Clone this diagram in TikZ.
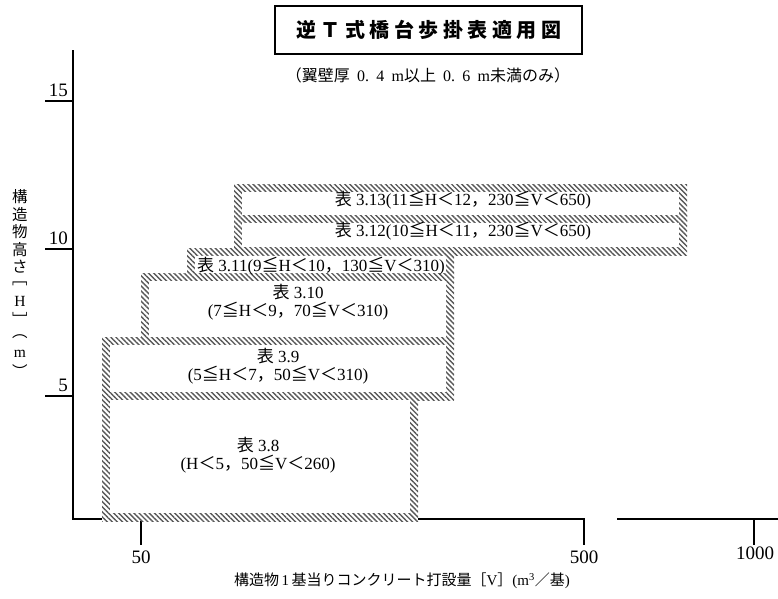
\documentclass[tikz,border=0pt]{standalone}
\usepackage{fontspec}
\setmainfont{Liberation Serif}
\newfontfamily\jp{Noto Sans CJK JP}
\usetikzlibrary{patterns.meta}
\newcommand\J[1]{{\jp #1}}
\newcommand\gp{\hspace{0.45em}}
\newcommand\tsp{\hspace{4.5pt}}
\begin{document}
\begin{tikzpicture}[x=1pt,y=-1pt,
  hatch/.style={pattern={Lines[angle=-45,distance=3.6pt,line width=1.4pt]},pattern color=black!65},
  ax/.style={line width=1.8pt},
  lbl/.style={font=\fontsize{17}{18}\selectfont, align=center, inner sep=0pt},
  ticklbl/.style={font=\fontsize{19}{20}\selectfont, inner sep=0pt},
  vch/.style={font=\fontsize{15.5}{16}\selectfont, inner sep=0pt}]
\useasboundingbox (0,0) rectangle (778,598);
% axes
\draw[ax] (73,50) -- (73,519) -- (584,519) -- (584,545);
\draw[ax] (141,519) -- (141,545);
\draw[ax] (617,519) -- (778,519);
\draw[ax] (754,519) -- (754,545);
\draw[ax] (45,101) -- (73,101);
\draw[ax] (45,249) -- (73,249);
\draw[ax] (45,396) -- (73,396);
% y tick labels
\node[ticklbl, anchor=south east] (y15) at (68,97) {15};
\node[ticklbl, anchor=south east] (y10) at (68,245) {10};
\node[ticklbl, anchor=south east] (y5) at (68,392) {5};
% x tick labels
\node[ticklbl] (x50) at (141,557) {50};
\node[ticklbl] (x500) at (584,557) {500};
\node[ticklbl] (x1000) at (755,553) {1000};
% hatched boxes
\foreach \a/\b/\c/\d in {234/184/687/223, 234/215/687/255, 187/248/454/281, 141/273/454/345, 102/337/454/400, 102/392/418/521}{
  \fill[white] (\a,\b) rectangle (\c,\d);
  \fill[hatch] (\a,\b) rectangle (\c,\d);
}
\foreach \a/\b/\c/\d in {242/192/679/215, 242/223/679/247, 195/256/446/273, 149/281/446/337, 110/345/446/392, 110/400/410/513}{
  \fill[white] (\a,\b) rectangle (\c,\d);
}
% box labels
\node[lbl] (t13) at (463,200) {\J{表} 3.13(11\J{≦}H\J{＜}12\J{，}230\J{≦}V\J{＜}650)};
\node[lbl] (t12) at (463,231) {\J{表} 3.12(10\J{≦}H\J{＜}11\J{，}230\J{≦}V\J{＜}650)};
\node[lbl] (t11) at (321,266) {\J{表} 3.11(9\J{≦}H\J{＜}10\J{，}130\J{≦}V\J{＜}310)};
\node[lbl] (t10) at (298,302) {\J{表} 3.10\\(7\J{≦}H\J{＜}9\J{，}70\J{≦}V\J{＜}310)};
\node[lbl] (t9) at (278,366) {\J{表} 3.9\\(5\J{≦}H\J{＜}7\J{，}50\J{≦}V\J{＜}310)};
\node[lbl] (t8) at (258,455) {\J{表} 3.8\\(H\J{＜}5\J{，}50\J{≦}V\J{＜}260)};
% title
\node[draw, line width=1.6pt, minimum width=307pt, minimum height=48pt, inner sep=0pt,
  font=\jp\bfseries\fontsize{20}{24}\selectfont] (title) at (428.5,30)
  {逆\tsp Ｔ\tsp 式\tsp 橋\tsp 台\tsp 歩\tsp 掛\tsp 表\tsp 適\tsp 用\tsp 図};
\node[inner sep=0pt, font=\fontsize{16}{17}\selectfont] (sub) at (428,75)
  {\J{（翼壁厚}\gp 0.\gp 4\gp m\J{以上}\gp 0.\gp 6\gp m\J{未満のみ）}};
% y axis label (vertical)
\foreach \ch [count=\i from 0] in {\J{構},\J{造},\J{物},\J{高},\J{さ},\J{﹇},H,\J{﹈},\J{︵},m,\J{︶}}{
  \node[vch] (yl\i) at (20,{197+17.4*\i}) {\ch};
}
% x axis label
\node[inner sep=0pt, font=\fontsize{15}{17}\selectfont] (xlab) at (402,581)
  {\J{構造物}\,1\,\J{基当りコンクリート打設量［}V\J{］}(m\textsuperscript{3}\J{／基})};
\end{tikzpicture}
\end{document}
